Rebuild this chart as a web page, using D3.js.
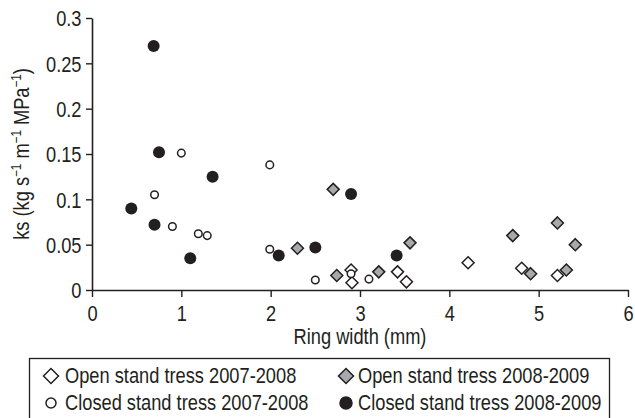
<!DOCTYPE html>
<html>
<head>
<meta charset="utf-8">
<script src="https://cdn.jsdelivr.net/npm/d3@7"></script>
<style>
  body { margin: 0; background: #fff; }
  svg text { font-family: "Liberation Sans", Arial, sans-serif; fill: #231f20; }
</style>
</head>
<body>
<div id="chart"></div>
<script>
// values
var openX07 = [2.90, 2.91, 3.42, 3.52, 4.21, 4.81, 5.21];
var openY07 = [0.022, 0.008, 0.020, 0.009, 0.030, 0.024, 0.016];

var closedX07 = [0.70, 0.90, 1.00, 1.19, 1.29, 1.99, 1.99, 2.50, 2.90, 3.10];
var closedY07 = [0.105, 0.070, 0.151, 0.062, 0.060, 0.138, 0.045, 0.011, 0.018, 0.012];

var openX08 = [2.30, 2.70, 2.74, 3.21, 3.56, 4.71, 4.91, 5.21, 5.31, 5.41];
var openY08 = [0.046, 0.111, 0.016, 0.020, 0.052, 0.060, 0.018, 0.074, 0.022, 0.050];

var closedX08 = [0.44, 0.69, 0.70, 0.75, 1.10, 1.35, 2.09, 2.50, 2.90, 3.41];
var closedY08 = [0.090, 0.269, 0.072, 0.152, 0.035, 0.125, 0.038, 0.047, 0.106, 0.038];

var xTicks = [0, 1, 2, 3, 4, 5, 6];
var yTicks = [0, 0.05, 0.1, 0.15, 0.2, 0.25, 0.3];
var seriesNames = ["Open stand tress 2007-2008", "Open stand tress 2008-2009",
                   "Closed stand tress 2007-2008", "Closed stand tress 2008-2009"];

var margin = {top: 18, right: 7, bottom: 128, left: 92},
    width  = 635 - margin.left - margin.right,
    height = 418 - margin.top  - margin.bottom;

var ink = "#231f20",
    grey = "#a7a9ac",
    narrow = 0.83,   // condensed look, no narrow font installed
    fs = "22px";

var svg = d3.select("#chart").append("svg")
    .attr("width", 635)
    .attr("height", 418);

var g = svg.append("g")
    .attr("transform", "translate(" + margin.left + "," + margin.top + ")");

var x = d3.scaleLinear().domain([0, 6]).range([0, width]);
var y = d3.scaleLinear().domain([0, 0.3]).range([height, 0]);

var xAxis = d3.axisBottom(x).tickValues(xTicks).tickSize(7).tickSizeOuter(0).tickPadding(5)
    .tickFormat(d3.format("d"));
var yAxis = d3.axisLeft(y).tickValues(yTicks).tickSize(6).tickSizeOuter(0).tickPadding(5)
    .tickFormat(function (d) { return d === 0 ? "0" : String(+d.toFixed(2)); });

var gx = g.append("g")
    .attr("transform", "translate(0," + height + ")")
    .call(xAxis);
var gy = g.append("g").call(yAxis);

[gx, gy].forEach(function (a) {
  a.select(".domain").attr("stroke", ink).attr("stroke-width", 1.6);
  a.selectAll(".tick line").attr("stroke", ink).attr("stroke-width", 1.4);
  a.selectAll(".tick text")
    .style("font-family", '"Liberation Sans", Arial, sans-serif')
    .style("font-size", fs)
    .attr("fill", ink)
    .attr("transform", "scale(" + narrow + ",1)");
});
gx.selectAll(".tick text").attr("y", 10).attr("dy", "0.95em");
gy.selectAll(".tick text").attr("x", -10.5 / narrow).attr("dy", "0.36em");

// axis titles
g.append("text")
  .attr("transform", "translate(" + (width / 2) + "," + (height + 54) + ") scale(" + narrow + ",1)")
  .attr("text-anchor", "middle")
  .style("font-size", fs)
  .text("Ring width (mm)");

var yl = svg.append("text")
  .attr("transform", "translate(29," + (margin.top + height / 2) + ") rotate(-90) scale(" + narrow + ",1)")
  .attr("text-anchor", "middle")
  .style("font-size", fs);
yl.append("tspan").text("ks (kg s");
yl.append("tspan").attr("dy", -8).style("font-size", "14px").text("\u22121");
yl.append("tspan").attr("dy", 8).text(" m");
yl.append("tspan").attr("dy", -8).style("font-size", "14px").text("\u22121");
yl.append("tspan").attr("dy", 8).text(" MPa");
yl.append("tspan").attr("dy", -8).style("font-size", "14px").text("\u22121");
yl.append("tspan").attr("dy", 8).text(")");

function zip(xs, ys) { return xs.map(function (v, i) { return {x: v, y: ys[i]}; }); }

var diamondPath = function (s) { return "M0,-" + s + "L" + s + ",0L0," + s + "L-" + s + ",0Z"; };

// white diamonds
g.selectAll(".open07").data(zip(openX07, openY07)).enter().append("path")
  .attr("class", "open07")
  .attr("d", diamondPath(6))
  .attr("transform", function (d) { return "translate(" + x(d.x) + "," + y(d.y) + ")"; })
  .attr("fill", "#fff").attr("stroke", ink).attr("stroke-width", 1.5);

// open circles
g.selectAll(".closed07").data(zip(closedX07, closedY07)).enter().append("circle")
  .attr("class", "closed07")
  .attr("cx", function (d) { return x(d.x); })
  .attr("cy", function (d) { return y(d.y); })
  .attr("r", 3.8)
  .attr("fill", "#fff").attr("stroke", ink).attr("stroke-width", 1.5);

// grey diamonds
g.selectAll(".open08").data(zip(openX08, openY08)).enter().append("path")
  .attr("class", "open08")
  .attr("d", diamondPath(6))
  .attr("transform", function (d) { return "translate(" + x(d.x) + "," + y(d.y) + ")"; })
  .attr("fill", grey).attr("stroke", ink).attr("stroke-width", 1.5);

// filled circles
g.selectAll(".closed08").data(zip(closedX08, closedY08)).enter().append("circle")
  .attr("class", "closed08")
  .attr("cx", function (d) { return x(d.x); })
  .attr("cy", function (d) { return y(d.y); })
  .attr("r", 6)
  .attr("fill", ink);

// legend
var lg = svg.append("g");
lg.append("rect")
  .attr("x", 29.5).attr("y", 358.5)
  .attr("width", 580).attr("height", 80)
  .attr("fill", "none").attr("stroke", ink).attr("stroke-width", 1.3);

var legendItems = [
  {name: seriesNames[0], col: 0, row: 0, shape: "diamond", fill: "#fff"},
  {name: seriesNames[1], col: 1, row: 0, shape: "diamond", fill: grey},
  {name: seriesNames[2], col: 0, row: 1, shape: "circle", fill: "#fff"},
  {name: seriesNames[3], col: 1, row: 1, shape: "circle", fill: ink}
];
var colX = [51, 346], rowY = [376, 403];

var li = lg.selectAll(".li").data(legendItems).enter().append("g")
  .attr("transform", function (d) { return "translate(" + colX[d.col] + "," + rowY[d.row] + ")"; });

li.filter(function (d) { return d.shape === "diamond"; }).append("path")
  .attr("d", diamondPath(7.5))
  .attr("fill", function (d) { return d.fill; })
  .attr("stroke", ink).attr("stroke-width", 1.5);
li.filter(function (d) { return d.shape === "circle"; }).append("circle")
  .attr("r", function (d) { return d.fill === ink ? 6 : 5; })
  .attr("fill", function (d) { return d.fill; })
  .attr("stroke", ink).attr("stroke-width", 1.5);

li.append("text")
  .attr("transform", function (d) { return "translate(" + (d.col === 0 ? 14 : 12) + ",7) scale(" + narrow + ",1)"; })
  .style("font-size", fs)
  .text(function (d) { return d.name; });
</script>
</body>
</html>
